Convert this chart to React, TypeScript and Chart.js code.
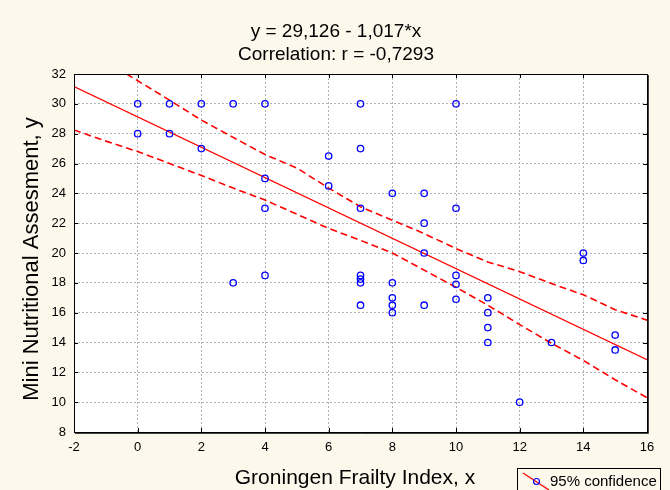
import React, { useEffect, useRef } from "react";
import { Chart, registerables } from "chart.js";

Chart.register(...registerables);

const FONT = "'Liberation Sans', Arial, sans-serif";

const titleLines = ["y = 29,126 - 1,017*x", "Correlation: r = -0,7293"];
const xAxisTitle = "Groningen Frailty Index, x";
const yAxisTitle = "Mini Nutritional Assesment, y";
const legendLabel = "95% confidence";

const xTicks = [-2, 0, 2, 4, 6, 8, 10, 12, 14, 16];
const yTicks = [8, 10, 12, 14, 16, 18, 20, 22, 24, 26, 28, 30, 32];

const pointX = [0, 0, 1, 1, 2, 2, 3, 3, 4, 4, 4, 4, 6, 6, 7, 7, 7, 7, 7, 7, 7, 8, 8, 8, 8, 8, 9, 9, 9, 9, 10, 10, 10, 10, 10, 11, 11, 11, 11, 12, 13, 14, 14, 15, 15];
const pointY = [30, 28, 30, 28, 30, 27, 30, 18, 30, 25, 23, 18.5, 26.5, 24.5, 30, 27, 23, 18.5, 18.25, 18, 16.5, 24, 18, 17, 16.5, 16, 24, 22, 20, 16.5, 30, 23, 18.5, 17.9, 16.9, 17, 16, 15, 14, 10, 14, 20, 19.5, 14.5, 13.5];

const fitX = [-2, 16];
const fitY = [31.16, 12.85];

const upperX = [-0.35, 0, 1, 2, 3, 4, 5, 6, 7, 8, 9, 10, 11, 12, 13, 14, 15, 16];
const upperY = [32, 31.55, 30.25, 28.91, 27.75, 26.6, 25.7, 24.35, 23.1, 22.2, 21.3, 20.3, 19.4, 18.75, 17.95, 17.2, 16.2, 15.5];

const lowerX = [-2, -1, 0, 1, 2, 3, 4, 5, 6, 7, 8, 9, 10, 11, 12, 13, 14, 15, 16];
const lowerY = [28.25, 27.5, 26.8, 26.0, 25.2, 24.35, 23.55, 22.6, 21.65, 20.85, 20.0, 18.85, 17.7, 16.5, 15.2, 13.95, 12.8, 11.5, 10.3];

const zip = (xs: number[], ys: number[]) => xs.map((x, i) => ({ x, y: ys[i] }));

const decorPlugin = {
  id: "decor",
  beforeDraw(chart: any) {
    const { ctx, chartArea: a } = chart;
    ctx.save();
    ctx.fillStyle = "#ffffff";
    ctx.fillRect(a.left, a.top, a.right - a.left, a.bottom - a.top);
    ctx.restore();
  },
  afterDraw(chart: any) {
    const { ctx, chartArea: a, scales } = chart;
    const xs = scales.x;
    const ys = scales.y;
    ctx.save();
    // frame
    ctx.strokeStyle = "#000000";
    ctx.lineWidth = 1;
    ctx.strokeRect(Math.round(a.left) + 0.5, Math.round(a.top) + 0.5, Math.round(a.right - a.left), Math.round(a.bottom - a.top));
    ctx.strokeStyle = "#404040";
    ctx.beginPath();
    ctx.moveTo(Math.round(a.right) + 1.5, Math.round(a.top) + 1);
    ctx.lineTo(Math.round(a.right) + 1.5, Math.round(a.bottom) + 1.5);
    ctx.lineTo(Math.round(a.left) + 1, Math.round(a.bottom) + 1.5);
    ctx.stroke();
    // inner ticks
    ctx.strokeStyle = "#000000";
    ctx.beginPath();
    xTicks.forEach((v) => {
      const px = Math.round(xs.getPixelForValue(v)) + 0.5;
      ctx.moveTo(px, a.bottom);
      ctx.lineTo(px, a.bottom - 4);
      ctx.moveTo(px, a.top);
      ctx.lineTo(px, a.top + 4);
    });
    yTicks.forEach((v) => {
      const py = Math.round(ys.getPixelForValue(v)) + 0.5;
      ctx.moveTo(a.left, py);
      ctx.lineTo(a.left + 4, py);
      ctx.moveTo(a.right, py);
      ctx.lineTo(a.right - 4, py);
    });
    ctx.stroke();
    // title
    ctx.fillStyle = "#000000";
    ctx.font = `19px ${FONT}`;
    ctx.textAlign = "center";
    ctx.textBaseline = "middle";
    ctx.fillText(titleLines[0], 336, 32);
    ctx.fillText(titleLines[1], 336, 55);
    // axis titles
    ctx.font = `21px ${FONT}`;
    ctx.fillText(xAxisTitle, 355, 478);
    ctx.save();
    ctx.translate(32, 259);
    ctx.rotate(-Math.PI / 2);
    ctx.font = `22px ${FONT}`;
    ctx.fillText(yAxisTitle, 0, 0);
    ctx.restore();
    // legend
    const lx = 517, ly = 468;
    ctx.fillStyle = "#fdf8ec";
    ctx.fillRect(lx, ly, 143, 24);
    ctx.strokeStyle = "#000000";
    ctx.lineWidth = 1;
    ctx.strokeRect(lx + 0.5, ly + 0.5, 143, 24);
    ctx.strokeStyle = "#ff0000";
    ctx.lineWidth = 1.3;
    ctx.beginPath();
    ctx.moveTo(523, 473);
    ctx.lineTo(549, 490);
    ctx.stroke();
    ctx.strokeStyle = "#0000ff";
    ctx.lineWidth = 1.2;
    ctx.beginPath();
    ctx.arc(536.5, 481.5, 3, 0, Math.PI * 2);
    ctx.stroke();
    ctx.fillStyle = "#000000";
    ctx.font = `15px ${FONT}`;
    ctx.textAlign = "left";
    ctx.fillText(legendLabel, 550, 482);
    ctx.restore();
  },
};

export default function App() {
  const ref = useRef<HTMLCanvasElement | null>(null);
  useEffect(() => {
    document.body.style.margin = "0";
    const canvas = ref.current;
    if (!canvas) return;
    const chart = new Chart(canvas, {
      type: "scatter",
      data: {
        datasets: [
          {
            data: zip(pointX, pointY),
            borderColor: "#0000ff",
            backgroundColor: "rgba(0,0,0,0)",
            pointRadius: 3.2,
            pointBorderWidth: 1.3,
            showLine: false,
          },
          {
            data: zip(fitX, fitY),
            showLine: true,
            borderColor: "#ff0000",
            borderWidth: 1.3,
            pointRadius: 0,
          },
          {
            data: zip(upperX, upperY),
            showLine: true,
            borderColor: "#ff0000",
            borderWidth: 1.6,
            borderDash: [7, 4],
            pointRadius: 0,
          },
          {
            data: zip(lowerX, lowerY),
            showLine: true,
            borderColor: "#ff0000",
            borderWidth: 1.6,
            borderDash: [7, 4],
            pointRadius: 0,
          },
        ],
      } as any,
      options: {
        animation: false,
        responsive: false,
        maintainAspectRatio: false,
        layout: { padding: { top: 74, right: 23, left: 0, bottom: 0 } },
        plugins: { legend: { display: false }, tooltip: { enabled: false }, title: { display: false } },
        scales: {
          x: {
            type: "linear",
            min: -2,
            max: 16,
            afterBuildTicks: (s: any) => { s.ticks = xTicks.map((v) => ({ value: v })); },
            afterFit: (s: any) => { s.height = 58; },
            grid: { color: "#b4b4b4", drawTicks: false },
            border: { display: false, dash: [2, 2] },
            ticks: { color: "#000000", font: { family: FONT, size: 13 }, padding: 8, maxRotation: 0 },
            title: { display: false },
          },
          y: {
            type: "linear",
            min: 8,
            max: 32,
            afterBuildTicks: (s: any) => { s.ticks = yTicks.map((v) => ({ value: v })); },
            afterFit: (s: any) => { s.width = 74; },
            grid: { color: "#b4b4b4", drawTicks: false },
            border: { display: false, dash: [2, 2] },
            ticks: { color: "#000000", font: { family: FONT, size: 13 }, padding: 8 },
            title: { display: false },
          },
        },
      } as any,
      plugins: [decorPlugin],
    });
    return () => chart.destroy();
  }, []);
  return (
    <div style={{ width: 670, height: 490, background: "#fdf8ec" }}>
      <canvas ref={ref} width={670} height={490} style={{ display: "block" }} />
    </div>
  );
}
